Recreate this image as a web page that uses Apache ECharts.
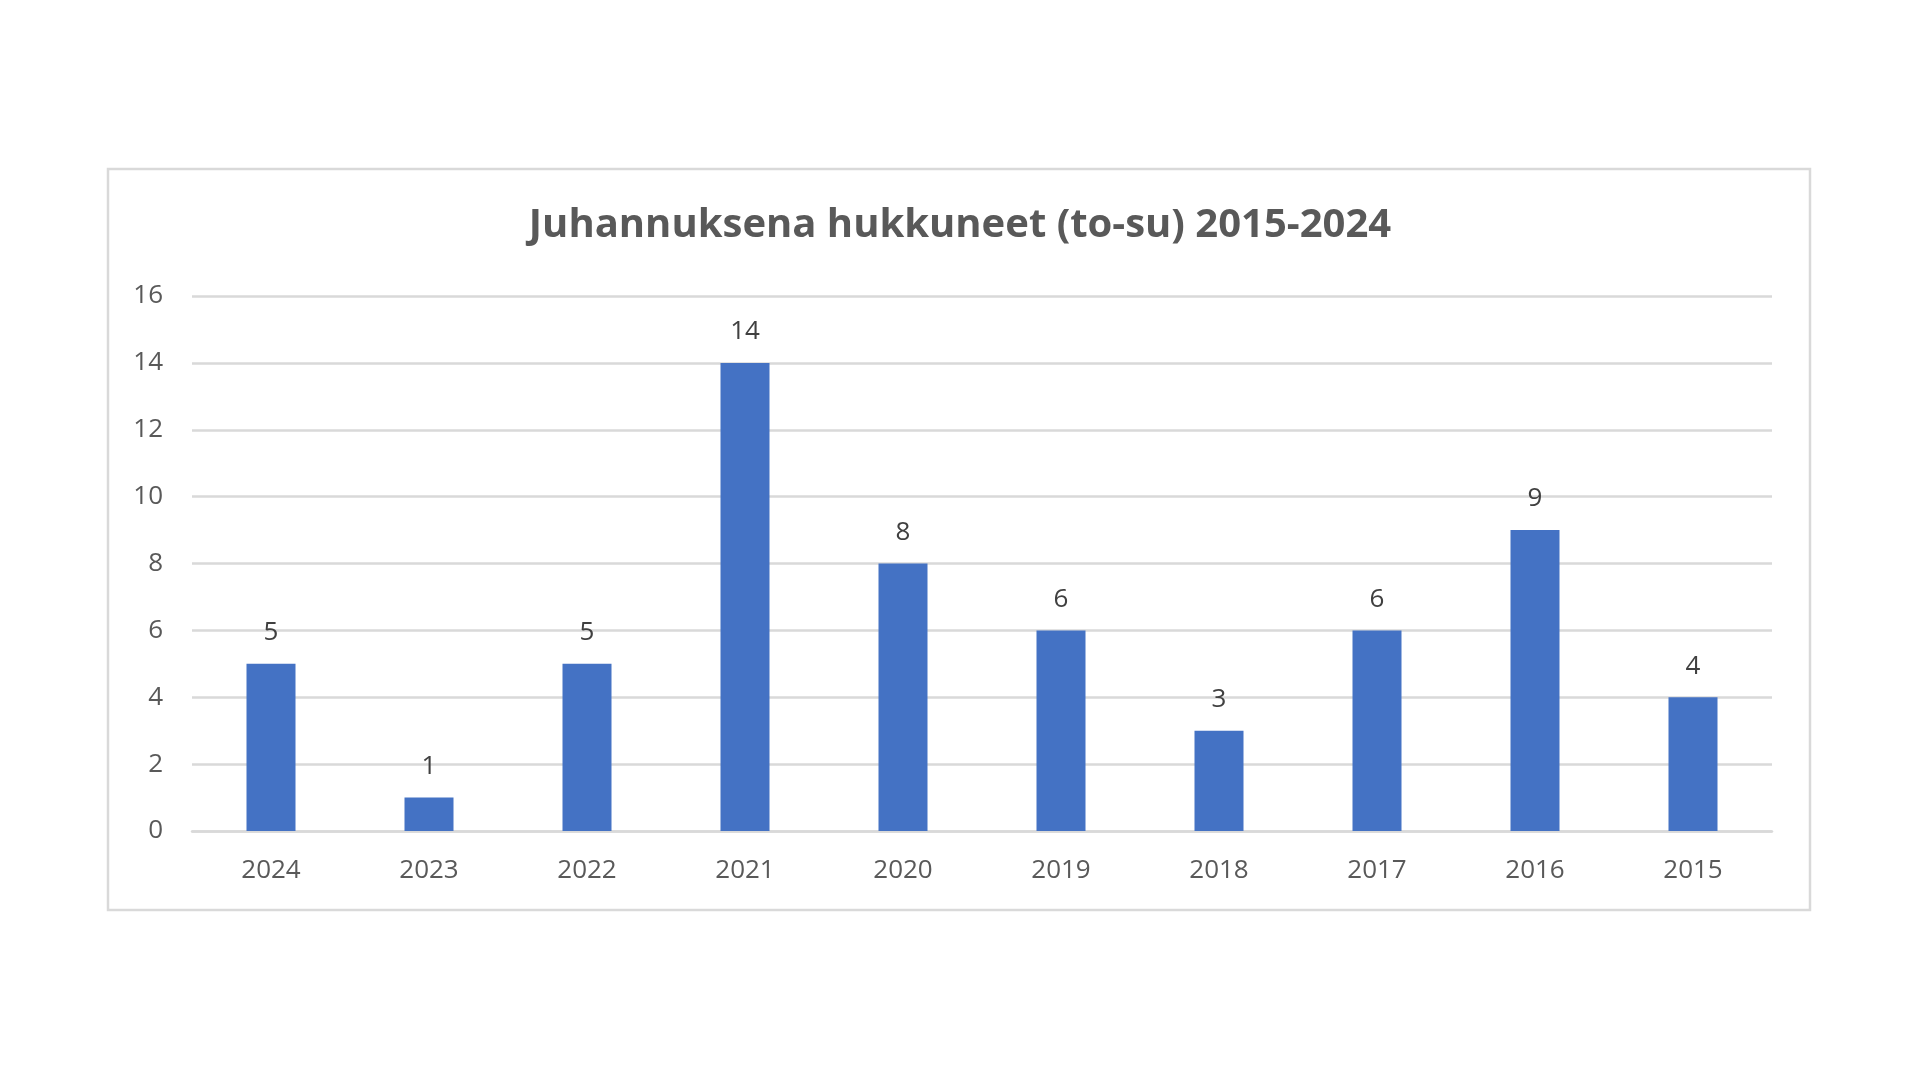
<!DOCTYPE html>
<html>
<head>
<meta charset="utf-8">
<script src="https://cdn.jsdelivr.net/npm/echarts@6/dist/echarts.min.js"></script>
<style>
html,body{margin:0;padding:0;background:#fff;}
#chart{width:1920px;height:1080px;}
</style>
</head>
<body>
<div id="chart"></div>
<script>
const titleText = 'Juhannuksena hukkuneet (to-su) 2015-2024';
const years = ['2024','2023','2022','2021','2020','2019','2018','2017','2016','2015'];
const drowned = [5, 1, 5, 14, 8, 6, 3, 6, 9, 4];

const chart = echarts.init(document.getElementById('chart'));
chart.setOption({
  backgroundColor: '#ffffff',
  animation: false,
  title: {
    text: titleText,
    left: 'center',
    top: 201,
    textStyle: {
      fontFamily: 'Open Sans',
      fontWeight: 'bold',
      fontSize: 40,
      color: '#595959'
    }
  },
  graphic: [{
    type: 'rect',
    shape: { x: 108, y: 169, width: 1702, height: 741 },
    style: { fill: 'none', stroke: '#d9d9d9', lineWidth: 2.5 },
    silent: true,
    z: -1
  }],
  grid: { left: 192, right: 148, top: 296, bottom: 249 },
  xAxis: {
    type: 'category',
    data: years,
    axisLine: { show: true, lineStyle: { color: '#d9d9d9', width: 2.5 } },
    axisTick: { show: false },
    axisLabel: { margin: 27, color: '#595959', fontFamily: 'Open Sans', fontSize: 26 }
  },
  yAxis: {
    type: 'value',
    min: 0,
    max: 16,
    interval: 2,
    axisLine: { show: false },
    axisTick: { show: false },
    splitLine: { lineStyle: { color: '#d9d9d9', width: 2.5 } },
    axisLabel: { margin: 29, color: '#595959', fontFamily: 'Open Sans', fontSize: 26 }
  },
  series: [{
    type: 'bar',
    data: drowned,
    barWidth: 49,
    itemStyle: { color: '#4472C4' },
    label: {
      show: true,
      position: 'top',
      distance: 18,
      color: '#404040',
      fontFamily: 'Open Sans',
      fontSize: 26
    }
  }]
});
</script>
</body>
</html>
